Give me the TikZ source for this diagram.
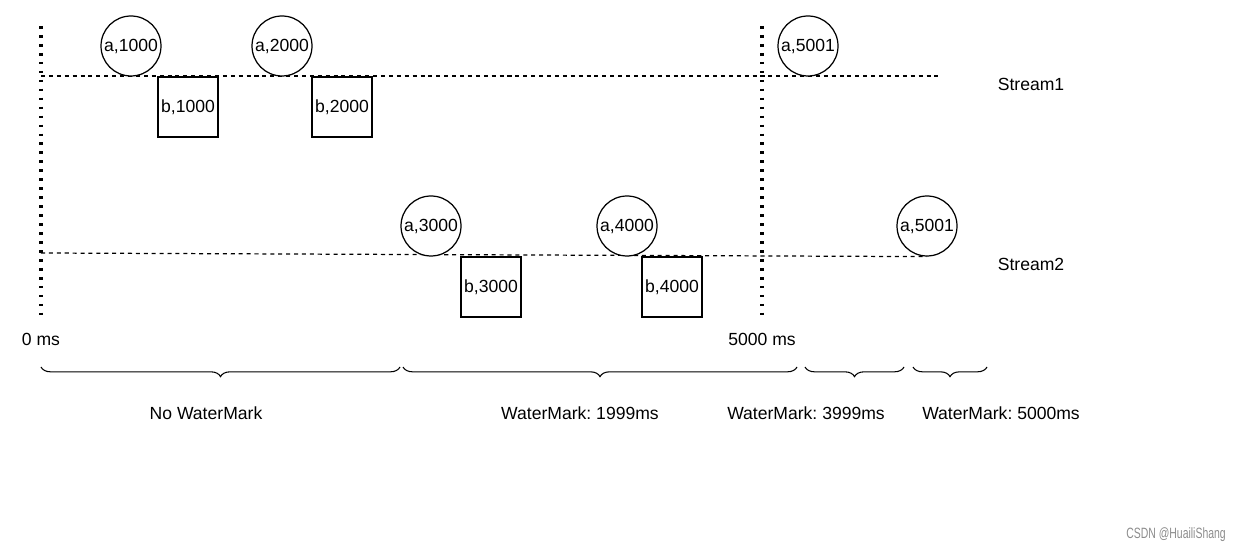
\documentclass[tikz,border=0pt]{standalone}
\usepackage{fontspec}
\setmainfont{Liberation Sans}
\usetikzlibrary{decorations.pathreplacing}
\frenchspacing

\tikzset{
	ev/.style={draw, line width=0.7pt, circle, minimum size=1.2cm, inner sep=0pt},
	evbox/.style={draw, line width=0.7pt, rectangle, minimum size=1.2cm, inner sep=0pt},
	tline/.style={line width=0.7pt, dash pattern=on 2.3pt off 2.2pt},
	tmark/.style={line width=1.8pt, dash pattern=on 1.5pt off 3.6pt},
	wmbrace/.style={line width=0.6pt, decorate, decoration={brace, mirror, amplitude=5.5pt}},
}

\begin{document}
\begin{tikzpicture}[x=0.02cm, y=-0.02cm, font=\fontsize{10}{12}\selectfont]
			%%%%% START %%%%%
			\useasboundingbox (0, 0) rectangle (1247, 553);
			
			% time marks
			\coordinate (t0top) at (41, 26);
			\coordinate (t0bot) at (41, 318);
			\coordinate (t5top) at (762, 26);
			\coordinate (t5bot) at (762, 318);
			\draw[tmark] (t0top) -- (t0bot);
			\draw[tmark] (t5top) -- (t5bot);
			\node (zero) at (41, 339) {0 ms};
			\node (five) at (762, 339) {5000 ms};
			
			% stream 1
			\coordinate (s1start) at (41, 76);
			\coordinate (s1end) at (938, 76);
			\draw[tline] (s1start) -- (s1end);
			\node[ev, fill=white] (a1000) at (131, 46) {a,1000};
			\node[ev, fill=white] (a2000) at (282, 46) {a,2000};
			\node[ev, fill=white] (a5001) at (808, 46) {a,5001};
			\node[evbox, fill=white] (b1000) at (188, 107) {b,1000};
			\node[evbox, fill=white] (b2000) at (342, 107) {b,2000};
			\node (stream1) at (1031, 84) {Stream1};
			
			% stream 2
			\coordinate (s2start) at (41, 253);
			\node[ev] (a5001b) at (927, 226) {a,5001};
			\draw[tline] (s2start) -- (a5001b.south);
			\node[ev, fill=white] (a3000) at (431, 226) {a,3000};
			\node[ev, fill=white] (a4000) at (627, 226) {a,4000};
			\node[evbox, fill=white] (b3000) at (491, 287) {b,3000};
			\node[evbox, fill=white] (b4000) at (672, 287) {b,4000};
			\node (stream2) at (1031, 264) {Stream2};
			
			% watermark ranges
			\draw[wmbrace] (41, 367) -- (400, 367);
			\draw[wmbrace] (403, 367) -- (797, 367);
			\draw[wmbrace] (805, 367) -- (904, 367);
			\draw[wmbrace] (913, 367) -- (987, 367);
			\node (nowm) at (206, 413) {No WaterMark};
			\node (wm1999) at (580, 413) {WaterMark: 1999ms};
			\node (wm3999) at (806, 413) {WaterMark: 3999ms};
			\node (wm5000) at (1001, 413) {WaterMark: 5000ms};
			
			\node[anchor=east, text=black!45, font=\fontsize{8.5}{10}\selectfont] (csdn) at (1232, 535) {\scalebox{0.7}[1]{CSDN @HuailiShang}};
			%%%%% END %%%%%
\end{tikzpicture}
\end{document}
